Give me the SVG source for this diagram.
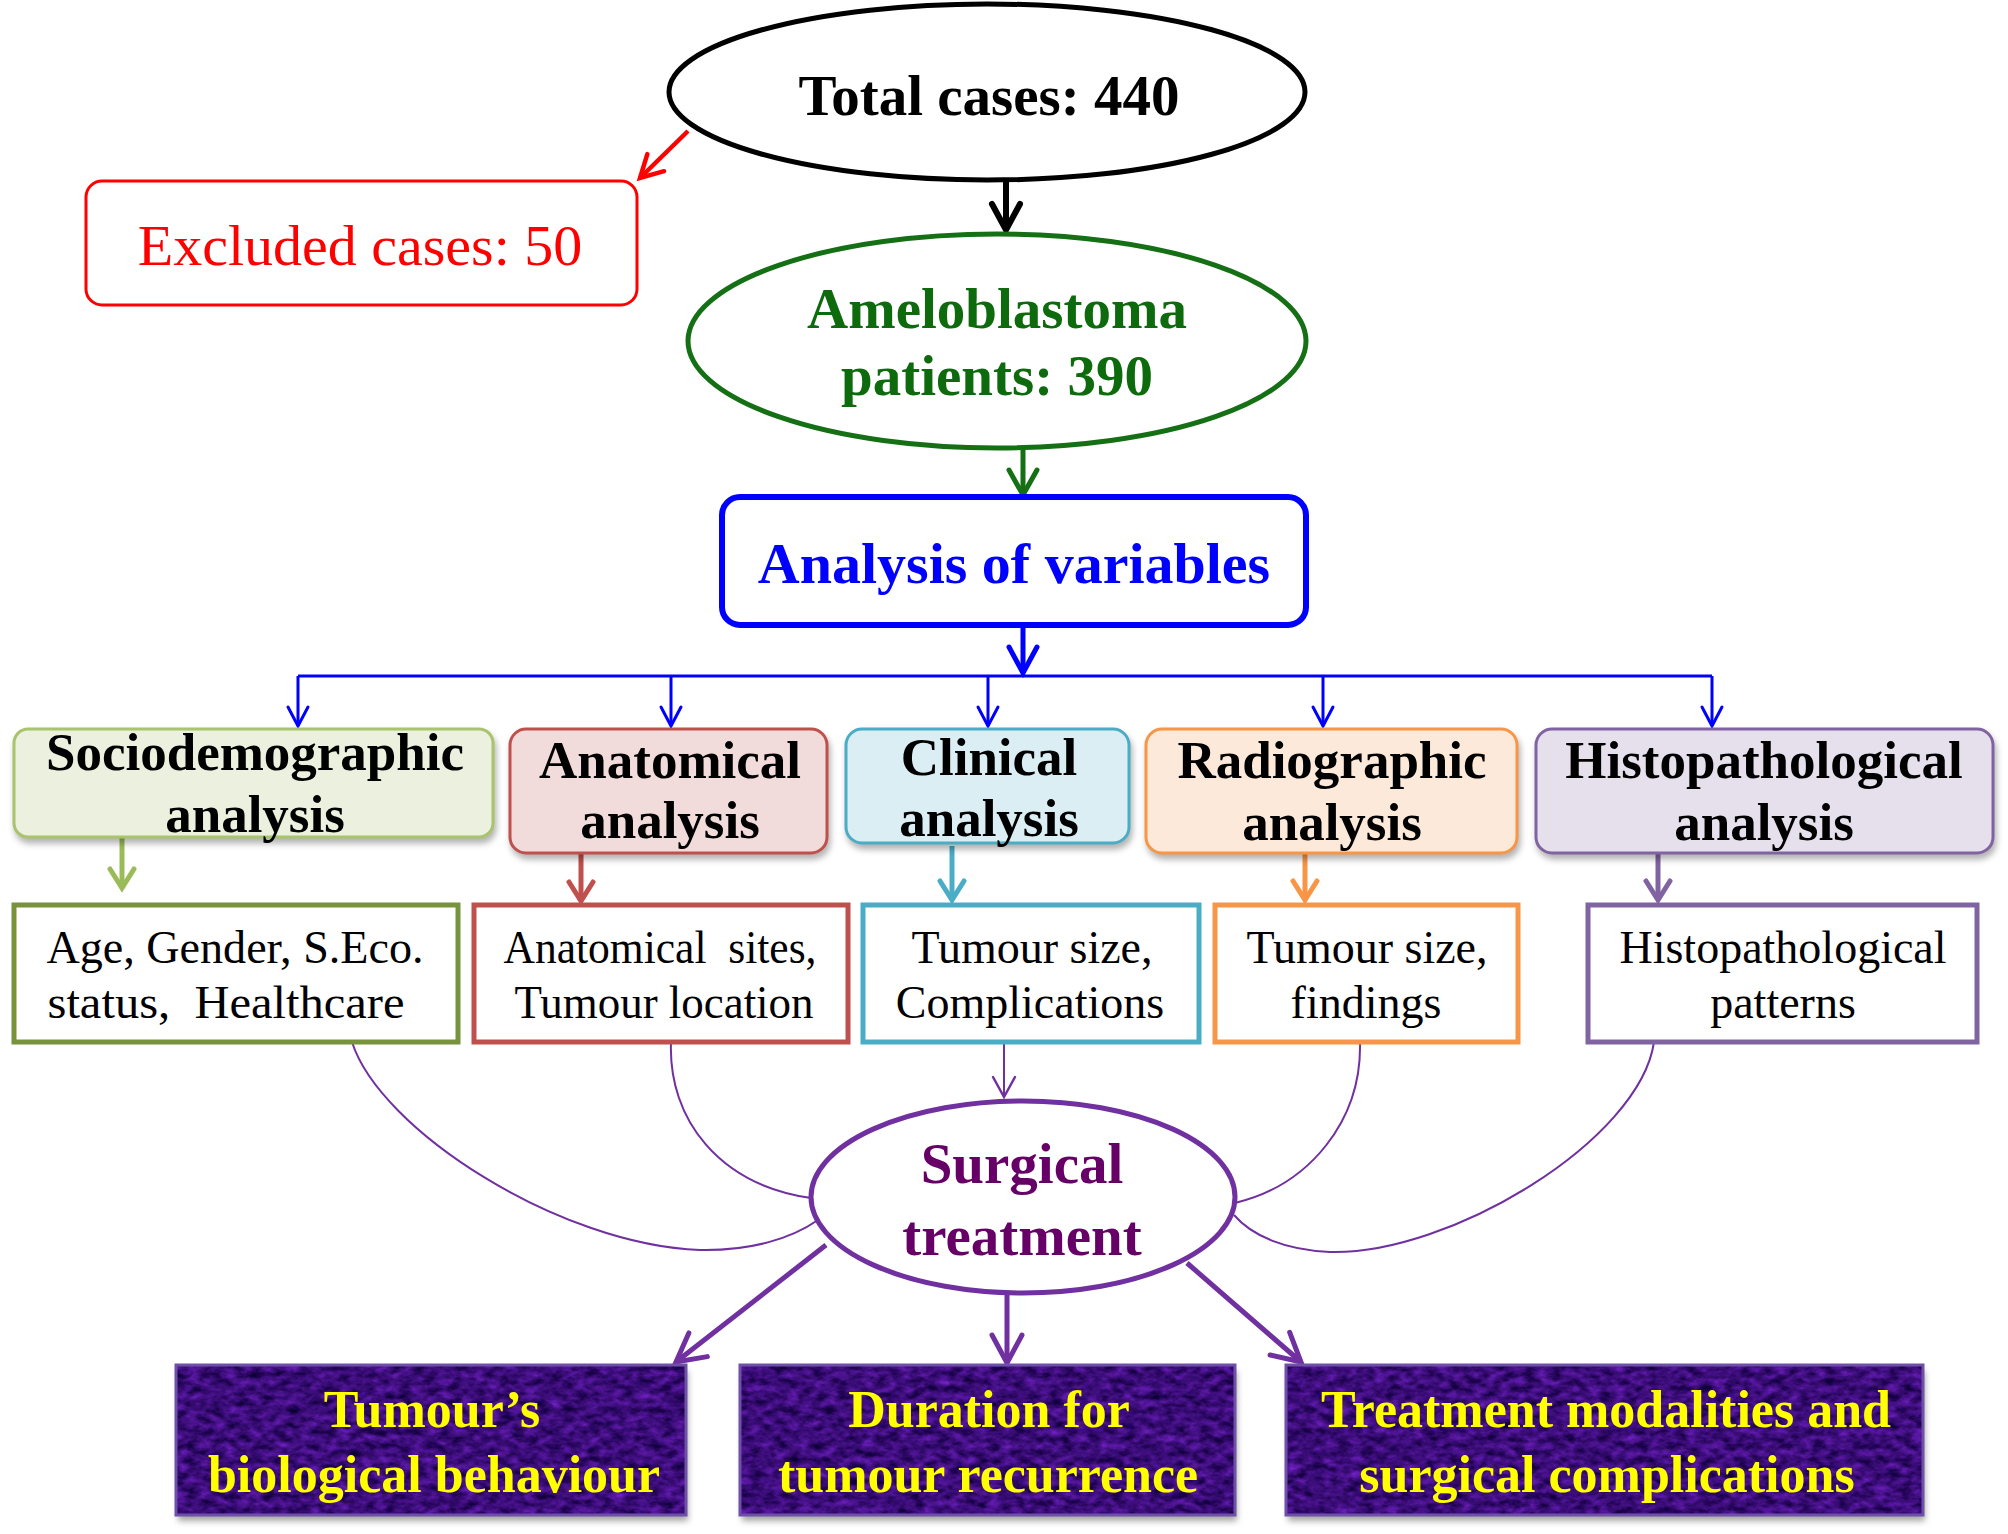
<svg xmlns="http://www.w3.org/2000/svg" width="2008" height="1534" viewBox="0 0 2008 1534">
<style>
.bold{font-family:"Liberation Serif","Times New Roman",serif;font-weight:bold;text-anchor:middle}
.reg{font-family:"Liberation Serif","Times New Roman",serif;font-weight:normal;text-anchor:middle}
.cat{font-size:53px;fill:#000}
.det{font-size:46px;fill:#000}
.bot{font-size:52px;fill:#ffff00}
.thin{fill:none;stroke:#7030a0;stroke-width:2}
</style>
<defs>
<filter id="sh" x="-10%" y="-10%" width="125%" height="135%" color-interpolation-filters="sRGB">
<feGaussianBlur in="SourceAlpha" stdDeviation="3"/>
<feOffset dx="2" dy="5" result="b"/>
<feFlood flood-color="#000" flood-opacity="0.3"/>
<feComposite in2="b" operator="in" result="s"/>
<feMerge><feMergeNode in="s"/><feMergeNode in="SourceGraphic"/></feMerge>
</filter>
<filter id="tex" x="-5%" y="-5%" width="112%" height="125%" color-interpolation-filters="sRGB">
<feTurbulence type="fractalNoise" baseFrequency="0.08 0.14" numOctaves="4" seed="7" result="n"/>
<feColorMatrix in="n" type="matrix" values="0.5 0 0 0 -0.02  0.18 0 0 0 -0.04  0.7 0 0 0 0.12  0 0 0 0 1" result="c"/>
<feComposite in="c" in2="SourceGraphic" operator="in" result="t"/>
<feGaussianBlur in="SourceAlpha" stdDeviation="3"/>
<feOffset dx="2" dy="6" result="b"/>
<feFlood flood-color="#000" flood-opacity="0.35"/>
<feComposite in2="b" operator="in" result="s"/>
<feMerge><feMergeNode in="s"/><feMergeNode in="t"/></feMerge>
</filter>
<marker id="mBlack" markerUnits="userSpaceOnUse" orient="auto" overflow="visible" markerWidth="1" markerHeight="1"><path d="M-26,-14 L0,0 L-26,14" fill="none" stroke="#000" stroke-width="6" stroke-linecap="round"/></marker>
<marker id="mRed" markerUnits="userSpaceOnUse" orient="auto" overflow="visible" markerWidth="1" markerHeight="1"><path d="M-22,-12 L0,0 L-22,12" fill="none" stroke="#ff0000" stroke-width="4.5" stroke-linecap="round"/></marker>
<marker id="mGreen" markerUnits="userSpaceOnUse" orient="auto" overflow="visible" markerWidth="1" markerHeight="1"><path d="M-25,-14 L0,0 L-25,14" fill="none" stroke="#157015" stroke-width="5" stroke-linecap="round"/></marker>
<marker id="mBlue" markerUnits="userSpaceOnUse" orient="auto" overflow="visible" markerWidth="1" markerHeight="1"><path d="M-26,-14 L0,0 L-26,14" fill="none" stroke="#0000ff" stroke-width="5" stroke-linecap="round"/></marker>
<marker id="mBlueS" markerUnits="userSpaceOnUse" orient="auto" overflow="visible" markerWidth="1" markerHeight="1"><path d="M-19,-10 L0,0 L-19,10" fill="none" stroke="#0000ff" stroke-width="3" stroke-linecap="round"/></marker>
<marker id="mOl" markerUnits="userSpaceOnUse" orient="auto" overflow="visible" markerWidth="1" markerHeight="1"><path d="M-19,-12 L0,0 L-19,12" fill="none" stroke="#9bbb59" stroke-width="5" stroke-linecap="round"/></marker>
<marker id="mRd" markerUnits="userSpaceOnUse" orient="auto" overflow="visible" markerWidth="1" markerHeight="1"><path d="M-19,-12 L0,0 L-19,12" fill="none" stroke="#c0504d" stroke-width="5" stroke-linecap="round"/></marker>
<marker id="mTl" markerUnits="userSpaceOnUse" orient="auto" overflow="visible" markerWidth="1" markerHeight="1"><path d="M-19,-12 L0,0 L-19,12" fill="none" stroke="#4bacc6" stroke-width="5" stroke-linecap="round"/></marker>
<marker id="mOr" markerUnits="userSpaceOnUse" orient="auto" overflow="visible" markerWidth="1" markerHeight="1"><path d="M-19,-12 L0,0 L-19,12" fill="none" stroke="#f79646" stroke-width="5" stroke-linecap="round"/></marker>
<marker id="mPu" markerUnits="userSpaceOnUse" orient="auto" overflow="visible" markerWidth="1" markerHeight="1"><path d="M-19,-12 L0,0 L-19,12" fill="none" stroke="#8064a2" stroke-width="5" stroke-linecap="round"/></marker>
<marker id="mVio" markerUnits="userSpaceOnUse" orient="auto" overflow="visible" markerWidth="1" markerHeight="1"><path d="M-28,-15 L0,0 L-28,15" fill="none" stroke="#7030a0" stroke-width="5" stroke-linecap="round"/></marker>
<marker id="mVioS" markerUnits="userSpaceOnUse" orient="auto" overflow="visible" markerWidth="1" markerHeight="1"><path d="M-20,-11 L0,0 L-20,11" fill="none" stroke="#7030a0" stroke-width="2.5" stroke-linecap="round"/></marker>
</defs>
<rect width="2008" height="1534" fill="#fff"/>

<g id="connectors">
<path d="M1006,180 L1006,230" stroke="#000" stroke-width="6" fill="none" marker-end="url(#mBlack)"/>
<path d="M688,131 L640,178" stroke="#ff0000" stroke-width="4.5" fill="none" marker-end="url(#mRed)"/>
<path d="M1023,450 L1023,495" stroke="#157015" stroke-width="5" fill="none" marker-end="url(#mGreen)"/>
<path d="M1023,625 L1023,673" stroke="#0000ff" stroke-width="5" fill="none" marker-end="url(#mBlue)"/>
<path d="M298,676 L1712,676" stroke="#0000ff" stroke-width="3" fill="none"/>
<g stroke="#0000ff" stroke-width="3" fill="none">
<path d="M298,676 L298,726" marker-end="url(#mBlueS)"/>
<path d="M671,676 L671,726" marker-end="url(#mBlueS)"/>
<path d="M988,676 L988,726" marker-end="url(#mBlueS)"/>
<path d="M1323,676 L1323,726" marker-end="url(#mBlueS)"/>
<path d="M1712,676 L1712,726" marker-end="url(#mBlueS)"/>
</g>
<g stroke-width="5" fill="none">
<path d="M122,838 L122,888" stroke="#9bbb59" marker-end="url(#mOl)"/>
<path d="M581,854 L581,901" stroke="#c0504d" marker-end="url(#mRd)"/>
<path d="M952,846 L952,900" stroke="#4bacc6" marker-end="url(#mTl)"/>
<path d="M1305,854 L1305,900" stroke="#f79646" marker-end="url(#mOr)"/>
<path d="M1658,854 L1658,900" stroke="#8064a2" marker-end="url(#mPu)"/>
</g>
<path class="thin" d="M352,1042 C380,1130 560,1245 700,1250 C752,1251 792,1238 818,1220"/>
<path class="thin" d="M671,1042 C668,1120 720,1185 811,1198"/>
<path class="thin" d="M1004,1042 L1004,1097" stroke-width="2.5" marker-end="url(#mVioS)"/>
<path class="thin" d="M1360,1042 C1362,1120 1310,1185 1235,1203"/>
<path class="thin" d="M1654,1042 C1640,1140 1450,1255 1330,1252 C1285,1250 1252,1236 1234,1215"/>
<g stroke="#7030a0" stroke-width="5" fill="none">
<path d="M826,1245 L676,1362" marker-end="url(#mVio)"/>
<path d="M1007,1293 L1007,1363" marker-end="url(#mVio)"/>
<path d="M1187,1263 L1301,1362" marker-end="url(#mVio)"/>
</g>
</g>

<g id="total">
<ellipse cx="987" cy="92" rx="318" ry="88" fill="#fff" stroke="#000" stroke-width="5"/>
<text class="bold" x="989" y="115" font-size="57" fill="#000">Total cases: 440</text>
</g>
<g id="excluded">
<rect x="86" y="181" width="551" height="124" rx="16" fill="#fff" stroke="#ff0000" stroke-width="3"/>
<text class="reg" x="360" y="265" font-size="58" fill="#ff0000">Excluded cases: 50</text>
</g>
<g id="patients">
<ellipse cx="997" cy="341" rx="309" ry="107" fill="#fff" stroke="#157015" stroke-width="5"/>
<text class="bold" x="997" y="328" font-size="57" fill="#0d6b0d">Ameloblastoma</text>
<text class="bold" x="997" y="395" font-size="57" fill="#0d6b0d">patients: 390</text>
</g>
<g id="analysis">
<rect x="722" y="497" width="584" height="128" rx="18" fill="#fff" stroke="#0000ff" stroke-width="6"/>
<text class="bold" x="1014" y="583" font-size="58" fill="#0000ff">Analysis of variables</text>
</g>

<g id="cat-socio">
<rect x="14" y="729" width="479" height="108" rx="14" fill="#ebf1de" stroke="#a9c46c" stroke-width="3" filter="url(#sh)"/>
<text class="bold cat" x="255" y="770">Sociodemographic</text>
<text class="bold cat" x="255" y="832">analysis</text>
</g>
<g id="cat-anat">
<rect x="510" y="729" width="317" height="124" rx="16" fill="#f2dcdb" stroke="#c0504d" stroke-width="3" filter="url(#sh)"/>
<text class="bold cat" x="670" y="778">Anatomical</text>
<text class="bold cat" x="670" y="838">analysis</text>
</g>
<g id="cat-clin">
<rect x="846" y="729" width="283" height="114" rx="16" fill="#dbeef4" stroke="#4bacc6" stroke-width="3" filter="url(#sh)"/>
<text class="bold cat" x="989" y="775">Clinical</text>
<text class="bold cat" x="989" y="836">analysis</text>
</g>
<g id="cat-radio">
<rect x="1146" y="729" width="371" height="124" rx="16" fill="#fde9d9" stroke="#f79646" stroke-width="3" filter="url(#sh)"/>
<text class="bold cat" x="1332" y="778">Radiographic</text>
<text class="bold cat" x="1332" y="840">analysis</text>
</g>
<g id="cat-histo">
<rect x="1536" y="729" width="457" height="124" rx="16" fill="#e5e0ec" stroke="#8064a2" stroke-width="3" filter="url(#sh)"/>
<text class="bold cat" x="1764" y="778">Histopathological</text>
<text class="bold cat" x="1764" y="840">analysis</text>
</g>

<g id="det-socio">
<rect x="14" y="905" width="444" height="137" fill="#fff" stroke="#77933c" stroke-width="5"/>
<text class="reg det" x="235" y="963" xml:space="preserve" textLength="377" lengthAdjust="spacingAndGlyphs">Age, Gender, S.Eco.</text>
<text class="reg det" x="226" y="1018" xml:space="preserve" textLength="357" lengthAdjust="spacingAndGlyphs">status,  Healthcare</text>
</g>
<g id="det-anat">
<rect x="474" y="905" width="374" height="137" fill="#fff" stroke="#c0504d" stroke-width="5"/>
<text class="reg det" x="660" y="963" xml:space="preserve" textLength="313" lengthAdjust="spacingAndGlyphs">Anatomical  sites,</text>
<text class="reg det" x="664" y="1018" textLength="299" lengthAdjust="spacingAndGlyphs">Tumour location</text>
</g>
<g id="det-clin">
<rect x="863" y="905" width="336" height="137" fill="#fff" stroke="#4bacc6" stroke-width="5"/>
<text class="reg det" x="1032" y="963">Tumour size,</text>
<text class="reg det" x="1030" y="1018">Complications</text>
</g>
<g id="det-radio">
<rect x="1215" y="905" width="303" height="137" fill="#fff" stroke="#f79646" stroke-width="5"/>
<text class="reg det" x="1367" y="963">Tumour size,</text>
<text class="reg det" x="1366" y="1018">findings</text>
</g>
<g id="det-histo">
<rect x="1588" y="905" width="389" height="137" fill="#fff" stroke="#8064a2" stroke-width="5"/>
<text class="reg det" x="1783" y="963">Histopathological</text>
<text class="reg det" x="1783" y="1018">patterns</text>
</g>

<g id="surgical">
<ellipse cx="1023" cy="1197" rx="212" ry="96" fill="#fff" stroke="#7030a0" stroke-width="5"/>
<text class="bold" x="1022" y="1183" font-size="57" fill="#660066">Surgical</text>
<text class="bold" x="1022" y="1255" font-size="57" fill="#660066">treatment</text>
</g>

<g id="out-behaviour">
<rect x="176" y="1365" width="510" height="150" fill="#3c0f78" filter="url(#tex)"/>
<rect x="176" y="1365" width="510" height="150" fill="none" stroke="#6f50a8" stroke-width="3"/>
<text class="bold bot" x="432" y="1427">Tumour’s</text>
<text class="bold bot" x="434" y="1492">biological behaviour</text>
</g>
<g id="out-duration">
<rect x="740" y="1365" width="495" height="150" fill="#3c0f78" filter="url(#tex)"/>
<rect x="740" y="1365" width="495" height="150" fill="none" stroke="#6f50a8" stroke-width="3"/>
<text class="bold bot" x="989" y="1427">Duration for</text>
<text class="bold bot" x="988" y="1492">tumour recurrence</text>
</g>
<g id="out-modalities">
<rect x="1286" y="1365" width="637" height="150" fill="#3c0f78" filter="url(#tex)"/>
<rect x="1286" y="1365" width="637" height="150" fill="none" stroke="#6f50a8" stroke-width="3"/>
<text class="bold bot" x="1606" y="1427">Treatment modalities and</text>
<text class="bold bot" x="1607" y="1492">surgical complications</text>
</g>
</svg>
